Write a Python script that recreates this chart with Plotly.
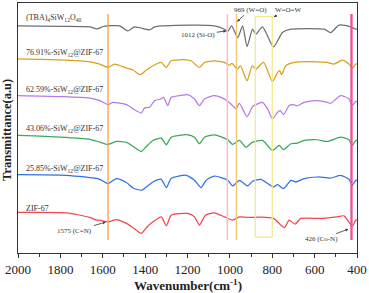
import plotly.graph_objects as go

# ---------------- data (wavenumber cm-1, stacked transmittance a.u.) ----------------
tba_wn = [2000, 1802, 1661, 1628, 1595, 1520, 1482, 1449, 1379, 1355, 1191, 1073, 1026, 1010, 992, 963, 940,
          919, 893, 877, 846, 794, 752, 712, 555, 524, 485, 430, 406, 400]
tba_t = [228, 227.5, 227, 225, 227.5, 228, 223, 227, 224, 227, 228.7, 228, 224.7, 222.3, 228, 216.3, 228,
         207.3, 224.7, 219.7, 227, 207, 221.3, 224.7, 224.7, 221.3, 228.7, 227, 224.7, 225]

s7691_wn = [2000, 1802, 1661, 1614, 1575, 1544, 1488, 1457, 1423, 1394, 1363, 1324, 1300, 1277, 1206, 1183,
            1144, 1120, 1073, 1026, 1002, 990, 965, 950, 919, 894, 877, 841, 799, 775, 765, 756, 736, 696,
            588, 541, 508, 469, 438, 421, 406, 400]
s7691_t = [195, 194, 192, 189.7, 186.3, 189.7, 185.7, 183.7, 179, 183.7, 188, 191.3, 186.3, 193, 194, 193,
           186.3, 191.3, 193, 191.3, 188.5, 190.5, 184.5, 188, 173, 188, 184.7, 191.3, 172, 181.3, 183, 179,
           188, 191.3, 192, 191.3, 189.7, 193.7, 189.7, 185.7, 189.7, 190]

s6259_wn = [2000, 1802, 1661, 1614, 1575, 1552, 1488, 1457, 1418, 1402, 1379, 1355, 1324, 1313, 1293, 1277,
            1238, 1199, 1167, 1144, 1120, 1073, 1041, 1010, 979, 971, 955, 919, 893, 869, 846, 822, 799, 775,
            763, 747, 720, 704, 681, 649, 587, 540, 524, 477, 438, 422, 406, 400]
s6259_t = [158, 157, 155.5, 153, 149, 151.3, 149, 144.7, 140.7, 145.7, 146.3, 153, 154.7, 156.3, 148, 156.3,
           158, 159, 154.7, 148, 154.7, 158, 156.3, 152.3, 146.3, 144.7, 150.3, 137, 147, 149.7, 151.3, 144.7,
           134.7, 141.3, 143, 139, 148, 149, 148, 151.3, 153, 151.3, 150.3, 158, 154.7, 148, 152.3, 152]

s4306_wn = [2000, 1802, 1661, 1614, 1575, 1536, 1488, 1457, 1418, 1394, 1363, 1324, 1300, 1277, 1199, 1167,
            1144, 1120, 1073, 1010, 987, 955, 924, 893, 846, 799, 767, 747, 712, 681, 649, 587, 540, 477, 438,
            422, 406, 400]
s4306_t = [118, 116.3, 114, 111.3, 109, 112, 111, 107, 102, 107, 113, 115.3, 108.7, 116.3, 118.7, 116.3,
           109.7, 116.3, 118.7, 113.7, 109, 113, 106.3, 111.3, 113, 103, 108, 103.7, 109.7, 110.3, 113, 113.7,
           112, 116.3, 113.7, 108, 113, 113]

s2585_wn = [2000, 1771, 1614, 1575, 1536, 1488, 1457, 1418, 1394, 1363, 1324, 1300, 1277, 1206, 1167, 1136,
            1112, 1073, 1010, 987, 955, 916, 893, 853, 822, 794, 775, 747, 712, 688, 649, 587, 524, 477, 438,
            422, 406, 400]
s2585_t = [78.7, 78, 74, 69.7, 74.7, 70.7, 65.3, 63, 66.3, 71.3, 74, 65.7, 74.7, 78, 73, 65.7,
           73, 77.3, 73, 67.3, 73, 67.3, 72, 74, 69.7, 66.3, 68.7, 64.7, 73, 71.3, 74.7, 76.3, 75.3, 78, 74,
           68, 73, 73]

zif_wn = [2000, 1771, 1661, 1630, 1614, 1575, 1536, 1488, 1457, 1418, 1394, 1363, 1324, 1300, 1277, 1199,
          1167, 1144, 1115, 1073, 1026, 987, 955, 916, 853, 794, 743, 720, 692, 665, 571, 493, 461, 422, 406,
          400]
zif_t = [40.7, 40.3, 35.7, 33, 33, 31.3, 33.5, 29.7, 25.3, 19.7, 25.3, 31.3, 36.3, 27.3, 38, 39.7,
         36.3, 28, 38, 40.3, 36.3, 33, 36.3, 35.7, 36, 34.7, 25.5, 33, 29, 34.7, 34.7, 36.3, 37.3, 27, 33,
         33]

series_names = ["(TBA)<sub>4</sub>SiW<sub>12</sub>O<sub>40</sub>",
                "76.91%-SiW<sub>12</sub>@ZIF-67",
                "62.59%-SiW<sub>12</sub>@ZIF-67",
                "43.06%-SiW<sub>12</sub>@ZIF-67",
                "25.85%-SiW<sub>12</sub>@ZIF-67",
                "ZIF-67"]
series_wn = [tba_wn, s7691_wn, s6259_wn, s4306_wn, s2585_wn, zif_wn]
series_t = [tba_t, s7691_t, s6259_t, s4306_t, s2585_t, zif_t]
series_colors = ["#6e6e6e", "#d8a11c", "#b57ae6", "#3aa95a", "#2f72e2", "#f2464f"]
label_y = [235.7, 201.3, 163.7, 124.7, 84.7, 44.7]

x_ticks = [2000, 1800, 1600, 1400, 1200, 1000, 800, 600, 400]

marker_wn = [1575, 1012, 969, 426]
marker_colors = ["#f5a04a", "#f7bfd0", "#f0c476", "#e8559a"]
marker_widths = [1.3, 1.6, 1.3, 2.4]
band_wn = [880, 800]

FONT = "Liberation Serif"

fig = go.Figure()
for wn, t, c in zip(series_wn, series_t, series_colors):
    fig.add_trace(go.Scatter(x=wn, y=t, mode="lines", line=dict(color=c, width=1.25, shape="spline", smoothing=0.6),
                             showlegend=False, hoverinfo="skip"))

shapes = []
for w, c, lw in zip(marker_wn, marker_colors, marker_widths):
    shapes.append(dict(type="line", xref="x", yref="y", x0=w, x1=w, y0=13, y1=240,
                       line=dict(color=c, width=lw), layer="above"))
shapes.append(dict(type="rect", xref="x", yref="y", x0=band_wn[0], x1=band_wn[1], y0=16, y1=237.3,
                   line=dict(color="#f3e98a", width=1.2), fillcolor="rgba(0,0,0,0)", layer="above"))

annotations = []
for name, ly in zip(series_names, label_y):
    annotations.append(dict(x=1972, y=ly, xref="x", yref="y", text=name, showarrow=False, xanchor="left",
                            yanchor="middle", font=dict(family=FONT, size=8, color="#333333")))

arrow_ann = [
    ("1575 (C=N)", 1586, 31, -31, 9),
    ("1012 (Si-O)", 1017, 223, -28, 4),
    ("969 (W=O)", 966, 232.3, 13, -12),
    ("W=O=W", 793, 237, 15, -7),
    ("426 (Co-N)", 441, 24, -27, 10),
]
for txt, x, y, ax, ay in arrow_ann:
    annotations.append(dict(x=x, y=y, xref="x", yref="y", text=txt, showarrow=True, ax=ax, ay=ay,
                            arrowhead=2, arrowsize=0.7, arrowwidth=0.8, arrowcolor="#333333",
                            font=dict(family=FONT, size=7, color="#333333")))

annotations.append(dict(x=0.5, y=-0.128, xref="paper", yref="paper", text="<b>Wavenumber(cm<sup>-1</sup>)</b>",
                        showarrow=False, xanchor="center", yanchor="middle",
                        font=dict(family=FONT, size=13, color="#222222")))
annotations.append(dict(x=-0.034, y=0.494, xref="paper", yref="paper", text="<b>Transmittance(a.u)</b>",
                        showarrow=False, textangle=-90, xanchor="center", yanchor="middle",
                        font=dict(family=FONT, size=12.5, color="#222222")))

fig.update_layout(
    width=369, height=293,
    margin=dict(l=18, r=10, t=2, b=40),
    paper_bgcolor="white", plot_bgcolor="white",
    shapes=shapes, annotations=annotations,
    xaxis=dict(range=[2000, 400], tickvals=x_ticks, ticks="outside", ticklen=4, tickwidth=1,
               tickcolor="#333333", showline=True, linecolor="#333333", linewidth=1.3, mirror=True,
               showgrid=False, zeroline=False,
               tickfont=dict(family=FONT, size=13, color="#222222"),
               minor=dict(dtick=100, tick0=0, ticks="outside", ticklen=2.5, tickcolor="#333333", showgrid=False)),
    yaxis=dict(range=[0, 251], showticklabels=False, ticks="", showline=True, linecolor="#333333",
               linewidth=1.3, mirror=True, showgrid=False, zeroline=False),
)

fig.write_html("out.html", config={"displayModeBar": False},
               post_script="document.body.style.margin='0px';")
